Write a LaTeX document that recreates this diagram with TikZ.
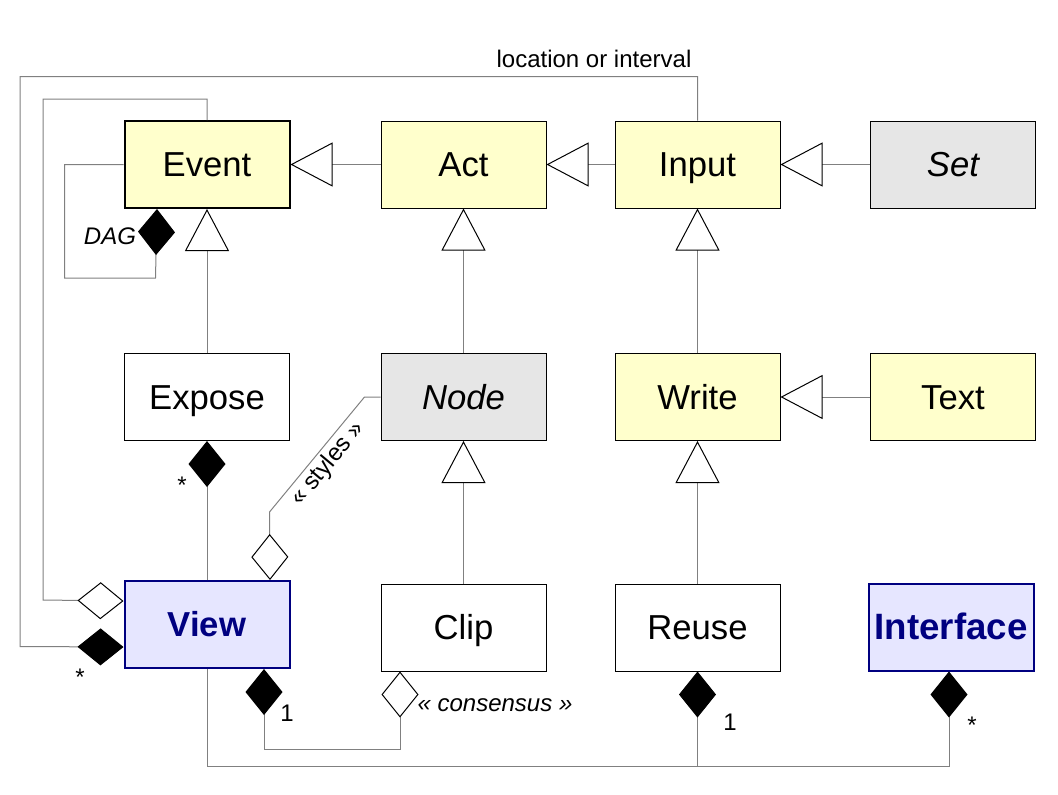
\documentclass[tikz,border=0pt]{standalone}
\usepackage{fontspec}
\setmainfont{Liberation Sans}
\usetikzlibrary{arrows.meta}

\definecolor{actfill}{HTML}{FFFFCC}
\definecolor{absfill}{HTML}{E6E6E6}
\definecolor{ifcfill}{HTML}{E6E6FF}
\definecolor{ifcline}{HTML}{000080}
\definecolor{linkgray}{HTML}{808080}

\tikzset{
  cls/.style={draw, line width=0.75pt, minimum width=123.75pt, minimum height=65.25pt,
    inner sep=0pt, text height=18.6pt, text depth=0pt, font=\fontsize{26}{30}\selectfont},
  actcls/.style={cls, fill=actfill},
  abscls/.style={cls, fill=absfill, font=\fontsize{26}{30}\selectfont\itshape},
  ifccls/.style={cls, draw=ifcline, fill=ifcfill, text=ifcline, line width=1.5pt,
    font=\fontsize{26}{30}\selectfont\bfseries},
  lbl/.style={inner sep=0pt, font=\fontsize{18}{20}\selectfont},
  link/.style={draw=linkgray, line width=0.75pt},
  gen/.style={link, -{Triangle[color=black, fill=white, length=31.5pt, width=33pt]}},
  comp/.style={link, -{Diamond[color=black, fill=black, length=34.5pt, width=27.75pt]}},
  agg/.style={link, -{Diamond[color=black, fill=white, length=34.5pt, width=27.75pt]}},
  compagg/.style={link, {Diamond[color=black, fill=black, length=34.5pt, width=27.75pt]}-{Diamond[color=black, fill=white, length=34.5pt, width=27.75pt]}},
}

\begin{document}
\begin{tikzpicture}[x=0.75pt, y=-0.75pt]
  \useasboundingbox (0,0) rectangle (1058,794);
  % classes
  \node[actcls, line width=1.5pt] (event) at (207,164.5) {Event};
  \node[actcls] (act) at (463.5,164.5) {Act};
  \node[actcls] (input) at (697.5,164.5) {Input};
  \node[abscls] (set) at (953,164.5) {Set};
  \node[cls] (expose) at (207,397) {Expose};
  \node[abscls] (nodebox) at (463.5,397) {Node};
  \node[actcls] (write) at (697.5,397) {Write};
  \node[actcls] (text) at (953,397) {Text};
  \node[ifccls] (view) at (207,624.5) {View};
  \node[cls] (clip) at (463.5,627.5) {Clip};
  \node[cls] (reuse) at (697.5,627.5) {Reuse};
  \node[ifccls, font=\fontsize{27.5}{30}\selectfont\bfseries] (interface) at (951,627) {Interface};
  % labels
  \node[lbl] (locint) at (594,59) {location or interval};
  \node[lbl, font=\fontsize{18}{20}\selectfont\itshape] (dag) at (110,236) {DAG};
  \node[lbl] (mexpose) at (182,485) {*};
  \node[lbl] (minput) at (80,677) {*};
  \node[lbl] (mclip) at (287,713) {1};
  \node[lbl, font=\fontsize{18}{20}\selectfont\itshape] (consensus) at (495,705) {« consensus »};
  \node[lbl] (mreuse) at (730,722) {1};
  \node[lbl] (mifc) at (972,725) {*};
  \node[lbl, rotate=50] (styles) at (328,464) {« styles »};
  \coordinate (bus) at ([yshift=-72.75pt]view.south);
  % generalizations
  \begin{scope}
    \draw[gen] (act) -- (event);
    \draw[gen] (input) -- (act);
    \draw[gen] (set) -- (input);
    \draw[gen] (expose) -- (event);
    \draw[gen] (nodebox) -- (act);
    \draw[gen] (write) -- (input);
    \draw[gen] (text) -- (write);
    \draw[gen] (clip) -- (nodebox);
    \draw[gen] (reuse) -- (write);
  \end{scope}
  % associations
  \begin{scope}
    \draw[comp] (event.west) -- ++(-59,0) -- ++(0,113.5) -- ++(91,0) -- ([xshift=-37.5pt]event.south);
    \draw[comp] (view) -- (expose);
    \draw[agg] (event.north) -- ++(0,-21) -- ++(-164,0) -- ++(0,501) -- ([yshift=17.625pt]view.west);
    \draw[comp] (input.north) -- ++(0,-44) -- ++(-677.5,0) -- ++(0,570) -- ([yshift=-16.875pt]view.west);
    \draw[agg] (nodebox.west) -- ++(-16,0) -- ++(-95,115) -- ([xshift=47.25pt]view.north);
    \draw[compagg] ([xshift=42.75pt]view.south) -- ++(0,80) -| ([xshift=-47.625pt]clip.south);
    \draw[comp] (view.south) -- (bus) -| ([xshift=-1.5pt]interface.south);
    \draw[comp] (reuse.south |- bus) -- (reuse.south);
  \end{scope}
\end{tikzpicture}
\end{document}
